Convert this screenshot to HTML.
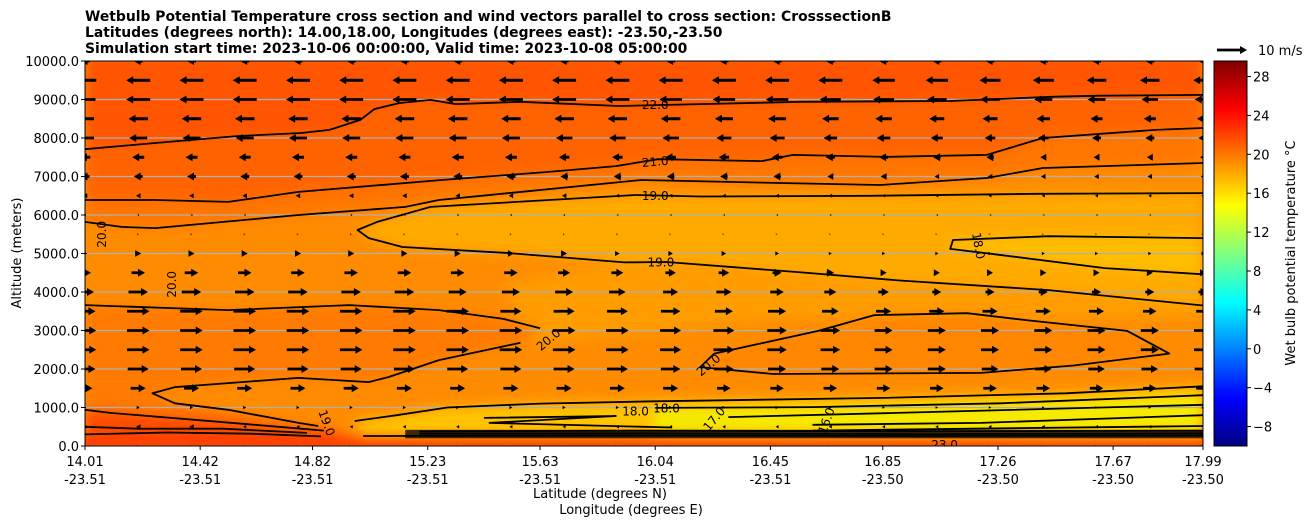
<!DOCTYPE html>
<html><head><meta charset="utf-8"><style>
html,body{margin:0;padding:0;background:#fff;}
svg{display:block;font-family:"DejaVu Sans","Liberation Sans",sans-serif;}
</style></head><body>
<svg id="chart" width="1311" height="526" viewBox="0 0 1311 526">
<defs>
<filter id="blur" x="-5%" y="-5%" width="110%" height="110%"><feGaussianBlur stdDeviation="6"/></filter>
<clipPath id="plotclip"><rect x="85" y="61" width="1118" height="385"/></clipPath>
<linearGradient id="jet" x1="0" y1="1" x2="0" y2="0">
<stop offset="0" stop-color="#000080"/><stop offset="0.125" stop-color="#0000ff"/>
<stop offset="0.375" stop-color="#00ffff"/><stop offset="0.625" stop-color="#ffff00"/>
<stop offset="0.875" stop-color="#ff0000"/><stop offset="1" stop-color="#800000"/>
</linearGradient>
</defs>
<g font-weight="bold" font-size="13.9">
<text x="85" y="21">Wetbulb Potential Temperature cross section and wind vectors parallel to cross section: CrosssectionB</text>
<text x="85" y="37">Latitudes (degrees north): 14.00,18.00, Longitudes (degrees east): -23.50,-23.50</text>
<text x="85" y="53">Simulation start time: 2023-10-06 00:00:00, Valid time: 2023-10-08 05:00:00</text>
</g>
<g id="plot" clip-path="url(#plotclip)">
<rect x="85" y="61" width="1118" height="385" fill="#ff8c00"/>
<g id="fills" filter="url(#blur)"></g>
<g id="grid"></g>
<g id="contours"></g>
<g id="arrows"></g>
<g id="clabels" font-size="12"></g>
</g>
<rect x="85" y="61" width="1118" height="385" fill="none" stroke="#000" stroke-width="1"/>
<g id="yaxis" font-size="13"></g>
<g id="xaxis" font-size="13"></g>
<text x="600" y="498" font-size="13" text-anchor="middle">Latitude (degrees N)</text>
<text x="631" y="514" font-size="13" text-anchor="middle">Longitude (degrees E)</text>
<text transform="translate(21,253) rotate(-90)" font-size="13" text-anchor="middle">Altitude (meters)</text>
<g>
<rect x="1214" y="61" width="33" height="385" fill="url(#jet)" stroke="#000" stroke-width="1"/>
<g id="cbticks" font-size="13"></g>
<text transform="translate(1295,253) rotate(-90)" font-size="13" text-anchor="middle">Wet bulb potential temperature °C</text>
</g>
<g>
<polygon id="keyarrow" fill="#000"/>
<text x="1258" y="55" font-size="13">10 m/s</text>
</g>
</svg>
<script>
// ---- data ----
const latTicks = [14.01,14.42,14.82,15.23,15.63,16.04,16.45,16.85,17.26,17.67,17.99];
const lonTicks = ["-23.51","-23.51","-23.51","-23.51","-23.51","-23.51","-23.51","-23.50","-23.50","-23.50","-23.50"];
const altTicks = [0,1000,2000,3000,4000,5000,6000,7000,8000,9000,10000];
const cbTicks = [-8,-4,0,4,8,12,16,20,24,28];
const windAlts = [0,500,1000,1500,2000,2500,3000,3500,4000,4500,5000,5500,6000,6500,7000,7500,8000,8500,9000,9500,10000];
const windU = [
 [0,0,0,0,0,0,0,0,0,0,0,0,0,0,0,0,0,0,0,0,0,0],
 [-1,-1.5,-1.5,-1,-1,-1,-1,-1,-1,-1,-1,-1,-1,-1,-1,-1,-1,-1,-1,-1,-1,-1],
 [1,1,1,1,1,1,1,1,1,1,1,1,1,1,1,0.8,0.8,0.8,0.8,0.8,0.8,0.8],
 [5,5,5,5,5,5,5,5,5,5,5,5,4.5,4.5,4.5,4.5,4.5,4.5,4.5,4.5,4.5,4.5],
 [7,7,7,7,7,7,7,7,7,7,7,6.5,6.5,6,6,6,6,5.5,5.5,5.5,5.5,5.5],
 [7.5,7.5,7.5,7.5,7.5,7.5,7.5,7.5,7.5,7.5,7.5,7,7,6.5,6.5,6,6,6,6,6,6,6],
 [7.5,7.5,7.5,7.5,7.5,7.5,7.5,7.5,7.5,7.5,7.5,7,7,6.5,6.5,6,6,6,6,6,6,6],
 [7,7.5,7.5,7.5,7.5,7.5,7.5,7.5,7,7,7,6.5,6,6,5.5,5,5,5,5,5,4.5,4.5],
 [6,6.5,6.5,6.5,6.5,6.5,6.5,6,6,6,5.5,5,5,4.5,4,3.5,3,3,3,3,3,3],
 [4,4.5,4.5,4.5,4.5,4.5,4.5,4.5,4.5,4,4,3.5,3.5,3,2.5,2,2,2,2,2,2,2],
 [1.5,2,2,2,2,2,2,2,2,2,1.5,1.5,1.5,1.2,1,1,1,1,1,1,1,1],
 [0.4,0.4,0.4,0.4,0.4,0.4,0.4,0.4,0.4,0.4,0.4,0.3,0.3,0.3,0.3,0.3,0.3,0.3,0.3,0.3,0.3,0.3],
 [-0.5,-0.6,-0.6,-0.6,-0.6,-0.6,-0.6,-0.6,-0.6,-0.6,-0.5,-0.5,-0.5,-0.5,-0.5,-0.4,-0.4,-0.4,-0.4,-0.4,-0.4,-0.4],
 [-1.5,-1.5,-1.5,-1.5,-1.5,-1.5,-1.5,-1.5,-1.5,-1.5,-1.2,-1.2,-1.2,-1.2,-1.2,-1,-1,-1,-1,-1,-1,-1],
 [-3,-3,-3,-3,-3,-3,-3,-3,-3,-2.5,-2.5,-2.5,-2.5,-2.5,-2,-2,-1.5,-1.5,-1.5,-1.5,-1.5,-1.5],
 [-3.5,-4,-4,-4,-4,-4,-4,-4,-4,-3.5,-3.5,-3.5,-3.5,-3.5,-3,-3,-2.5,-2.5,-2,-2,-2,-2],
 [-6,-6,-6,-6,-6,-6,-6,-6,-6,-5.5,-5.5,-5.5,-5,-5,-4.5,-4.5,-4,-3.5,-3.5,-3,-3,-3],
 [-6,-6.5,-6.5,-6.5,-6.5,-6.5,-6.5,-6.5,-6.5,-6.5,-6.5,-6.5,-6,-6,-5.5,-5.5,-5,-5,-4.5,-4,-4,-4],
 [-7,-8,-8,-8,-8,-8,-8,-8,-8,-8,-8,-7.5,-7.5,-7.5,-7,-7,-6.5,-6.5,-6,-6,-5.5,-5.5],
 [-7.5,-8,-8,-8,-8,-8,-8,-8,-8,-8,-8,-8,-8,-8,-8,-7.5,-7.5,-7,-7,-6.5,-6.5,-6.5],
 [-3,-3,-3,-3,-3,-3,-3,-3,-3,-3,-3,-3,-3,-3,-3,-3,-3,-3,-3,-3,-3,-3]
];
// contours: [lat, km]
const c22 = [[14.01,7.71],[14.26,7.87],[14.55,8.05],[14.78,8.13],[14.88,8.21],[14.99,8.47],[15.04,8.75],[15.13,8.91],[15.24,8.99],[15.33,8.88],[15.56,8.94],[15.91,8.83],[16.2,8.88],[16.56,8.94],[17.09,8.96],[17.45,9.07],[17.62,9.1],[17.99,9.12]];
const c21a = [[14.01,6.39],[14.26,6.39],[14.52,6.34],[14.77,6.6],[15.28,6.91],[15.66,7.12],[15.9,7.27],[16.05,7.45],[16.42,7.4],[16.53,7.56],[16.86,7.51],[17.22,7.56],[17.42,8.0],[17.82,8.21],[17.99,8.26]];
const c20b = [[14.01,5.82],[14.14,5.69],[14.26,5.66],[14.77,6.0],[15.15,6.21],[15.27,6.39],[15.99,6.91],[16.3,6.86],[16.84,6.78],[17.22,6.96],[17.42,7.22],[17.99,7.35]];
const c19 = [[17.99,6.57],[17.4,6.55],[16.8,6.5],[16.2,6.48],[15.97,6.52],[15.24,6.21],[15.05,5.82],[14.98,5.61],[15.02,5.4],[15.14,5.17],[15.52,5.01],[15.93,4.77],[16.08,4.78],[16.56,4.51],[16.91,4.3],[17.44,4.05],[17.99,3.65]];
const c18 = [[17.99,5.4],[17.44,5.45],[17.1,5.35],[17.09,5.12],[17.25,4.98],[17.64,4.62],[17.99,4.46]];
const c20up = [[14.01,3.66],[14.52,3.53],[14.95,3.66],[15.27,3.53],[15.5,3.3],[15.63,3.06]];
const c20lobe = [[16.25,2.4],[16.62,2.99],[16.82,3.4],[17.15,3.45],[17.36,3.27],[17.72,2.99],[17.87,2.4],[17.53,2.09],[17.2,1.9],[16.46,1.87],[16.2,2.05]];
const c20low = [[15.56,2.68],[15.27,2.23],[15.09,1.79],[15.02,1.66],[14.77,1.77],[14.33,1.53],[14.25,1.37],[14.33,1.11],[14.52,0.94],[14.77,0.6],[14.84,0.52]];
const c19low = [[14.97,0.65],[15.12,0.8],[15.3,1.0],[15.63,1.1],[16.04,1.16],[16.85,1.25],[17.5,1.37],[17.99,1.55]];
const c18b = [[16.04,0.99],[16.6,1.01],[17.27,1.11],[17.99,1.32]];
const c17 = [[16.3,0.75],[16.9,0.86],[17.99,1.07]];
const c18c = [[15.43,0.73],[15.9,0.78],[15.45,0.6],[16.1,0.48]];
const c16 = [[16.6,0.55],[17.2,0.6],[17.99,0.8]];
const c16b = [[16.6,0.4],[17.99,0.52]];
const cLeftA = [[14.01,0.94],[14.1,0.86],[14.4,0.68],[14.7,0.5],[14.86,0.4]];
const cLeftB = [[14.01,0.3],[14.3,0.35],[14.6,0.32],[14.85,0.25]];
const cLeftC = [[14.01,0.5],[14.2,0.45],[14.5,0.45],[14.8,0.34]];
const cBottom = [[15.2,0.38],[16.0,0.4],[17.0,0.38],[17.99,0.4]];
const cBottom2 = [[15.2,0.32],[16.0,0.33],[17.0,0.31],[17.99,0.33]];
const cBottom3 = [[15.0,0.26],[16.0,0.27],[17.0,0.26],[17.99,0.27]];
const contourLabels = [
 ["22.0",16.04,8.86,0],["21.0",16.04,7.38,-5],["19.0",16.04,6.5,0],["19.0",16.06,4.77,0],
 ["20.0",14.07,5.5,-90],["20.0",14.32,4.2,-90],["20.0",15.66,2.76,-40],["20.0",16.23,2.1,-40],
 ["18.0",17.19,5.2,80],["18.0",15.97,0.9,0],["18.0",16.08,0.98,0],["17.0",16.25,0.7,-50],["16.0",16.65,0.66,-70],["19.0",14.87,0.6,70],["23.0",17.07,0.02,0]
];
// ---- scales ----
const X = lat => 85 + (lat-14.01)/3.98*1118;
const Y = km => 446 - km*38.5;
const YM = m => Y(m/1000);
const CB = v => 446 - (v+10)/39.6*385;
const NS = "http://www.w3.org/2000/svg";
function mk(tag, attrs, parent){ const e=document.createElementNS(NS,tag); for(const k in attrs) e.setAttribute(k,attrs[k]); parent.appendChild(e); return e; }
const pts = arr => arr.map(p => X(p[0]).toFixed(1)+","+Y(p[1]).toFixed(1)).join(" ");

// fills
const fills = document.getElementById('fills');
const fillDefs = [
 ["fill-20b", c20b.concat([[17.99,10.2],[14.01,10.2]]), "#ff7600"],
 ["fill-21", c21a.concat([[17.99,10.2],[14.01,10.2]]), "#ff6400"],
 ["fill-22", c22.concat([[17.99,10.2],[14.01,10.2]]), "#ff5500"],
 ["fill-mid-right", [[15.6,2.7],[16.5,3.3],[17.99,3.3],[17.99,3.65],[16.56,4.51],[15.93,4.77],[15.5,4.2]], "#ff9c00"],
 ["fill-core-19", c19, "#ffaa00"],
 ["fill-core-18", c18, "#ffbe00"],
 ["fill-mid-left", c20up.concat(c20low.slice().concat([[14.01,0.9]])), "#ff7a00"],
 ["fill-lobe", c20lobe, "#ff8600"],
 ["fill-low-right", c19low.concat([[17.99,0.3],[15.0,0.3]]), "#ffc400"],
 ["fill-low-yellow", c18b.concat([[17.99,0.3],[16.04,0.35]]), "#f6ea00"],
 ["fill-left-bottom", [[14.01,0.95],[14.4,0.75],[14.9,0.4],[14.95,0],[14.01,0]], "#ff4a00"],
 ["fill-bottom-strip", [[13.9,0.24],[18.1,0.24],[18.1,-0.2],[13.9,-0.2]], "#ff3c00"]
];
fillDefs.forEach(f => {
 const e = mk('polygon',{points:pts(f[1]),fill:f[2]},fills);
 
 
});

// grid
const grid = document.getElementById('grid');
altTicks.forEach(a => {
 const l = mk('line',{x1:85,x2:1203,y1:YM(a),y2:YM(a),stroke:"#b0b0b0","stroke-width":1.2},grid);
 
 
});

// contours
const cg = document.getElementById('contours');
[["contour-22",c22],["contour-21",c21a],["contour-20-upper",c20b],["contour-19",c19],["contour-18",c18],["contour-20-mid",c20up],["contour-20-lobe",c20lobe.concat([c20lobe[0]])],["contour-20-low",c20low],["contour-19-low",c19low],["contour-18-low",c18b],["contour-17",c17],["contour-18-small",c18c],["contour-16",c16],["contour-16b",c16b],["contour-left-a",cLeftA],["contour-left-b",cLeftB],["contour-left-c",cLeftC],["contour-bottom",cBottom],["contour-bottom-2",cBottom2],["contour-bottom-3",cBottom3]].forEach(c => {
 const e = mk('polyline',{points:pts(c[1]),fill:"none",stroke:"#000","stroke-width":1.8,"stroke-linejoin":"round"},cg);
 
 
});
const band = mk('rect',{x:X(15.15),y:Y(0.42),width:X(17.99)-X(15.15),height:Y(0.2)-Y(0.42),fill:"#000",opacity:0.75},cg);



// arrows
function arrowPts(cx, cy, L){
 const s = Math.sign(L)||1, a = Math.abs(L);
 let hl = 7, hw = 4, sw = 1.4;
 if (a < hl){ const k = Math.max(a/hl,0.25); hl*=k; hw*=k; sw*=k; }
 const x0 = cx - s*a/2, x1 = cx + s*a/2, xb = x1 - s*hl;
 return [[x0,cy-sw],[xb,cy-sw],[xb,cy-hw],[x1,cy],[xb,cy+hw],[xb,cy+sw],[x0,cy+sw]].map(p=>p[0].toFixed(1)+","+p[1].toFixed(1)).join(" ");
}
const ag = document.getElementById('arrows');
windAlts.forEach((alt, r) => {
 windU[r].forEach((u, c) => {
  const lat = 14.01 + c*3.98/21;
  const p = mk('polygon',{points:arrowPts(X(lat), YM(alt), u*3),fill:"#000"},ag);
  
  
 });
});
document.getElementById('keyarrow').setAttribute('points', arrowPts(1232, 50, 30));

// contour labels
const lg = document.getElementById('clabels');
contourLabels.forEach(l => {
 const x = X(l[1]), y = Y(l[2]);
 const t = mk('text',{x:x,y:y+4,"text-anchor":"middle",transform:`rotate(${l[3]} ${x} ${y})`},lg);
 t.textContent = l[0];
 
 
});

// y axis
const ya = document.getElementById('yaxis');
altTicks.forEach(a => {
 const y = YM(a);
 const tk = mk('line',{x1:81,x2:85,y1:y,y2:y,stroke:"#000"},ya);
 
 
 const t = mk('text',{x:79,y:y+5,"text-anchor":"end"},ya);
 t.textContent = a.toFixed(1);
 
 
});
// x axis
const xa = document.getElementById('xaxis');
latTicks.forEach((lat, i) => {
 const x = X(lat);
 const tk = mk('line',{x1:x,x2:x,y1:446,y2:450,stroke:"#000"},xa);
 
 
 const t1 = mk('text',{x:x,y:466,"text-anchor":"middle"},xa);
 t1.textContent = lat.toFixed(2);
 
 
 const t2 = mk('text',{x:x,y:484,"text-anchor":"middle"},xa);
 t2.textContent = lonTicks[i];
 
 
});
// colorbar ticks
const cb = document.getElementById('cbticks');
cbTicks.forEach(v => {
 const y = CB(v);
 const tk = mk('line',{x1:1247,x2:1251,y1:y,y2:y,stroke:"#000"},cb);
 
 
 const t = mk('text',{x:1253,y:y+5},cb);
 t.textContent = v < 0 ? "\u2212" + Math.abs(v) : String(v);
 
 
});
</script>
</body></html>
